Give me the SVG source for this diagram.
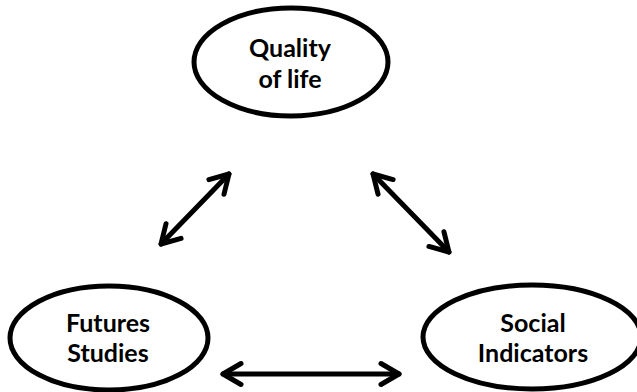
<svg xmlns="http://www.w3.org/2000/svg" width="637" height="392" viewBox="0 0 637 392">
<style>
.node{fill:#fff;stroke:#000;stroke-width:5}
.lbl{font-family:Lato,"Open Sans",sans-serif;font-weight:bold;font-size:25px;fill:#000;text-anchor:middle}
.conn{fill:none;stroke:#000;stroke-width:5;stroke-linecap:round;marker-start:url(#ah);marker-end:url(#ah)}
</style>
<defs>
<marker id="ah" viewBox="-24 -15 28 30" markerWidth="28" markerHeight="30" refX="0" refY="0" markerUnits="userSpaceOnUse" orient="auto-start-reverse">
<path d="M -18,-10.5 L 0,0 L -18,10.5" fill="none" stroke="#000" stroke-width="5" stroke-linecap="round" stroke-linejoin="round"/>
</marker>
</defs>
<rect width="637" height="392" fill="#fff"/>
<g id="quality">
<ellipse class="node" cx="291" cy="62" rx="97" ry="54"/>
<text class="lbl" x="290" y="57">Quality</text>
<text class="lbl" x="290" y="88">of life</text>
</g>
<g id="futures">
<ellipse class="node" cx="109" cy="338" rx="99" ry="52"/>
<text class="lbl" x="108" y="332">Futures</text>
<text class="lbl" x="108" y="362">Studies</text>
</g>
<g id="social">
<ellipse class="node" cx="532" cy="337" rx="109" ry="52"/>
<text class="lbl" x="533" y="332">Social</text>
<text class="lbl" x="533" y="362">Indicators</text>
</g>
<g id="connectors">
<path class="conn" d="M 161,244 L 229,174"/>
<path class="conn" d="M 373,174 L 449,252"/>
<path class="conn" d="M 223,374 L 399,374"/>
</g>
</svg>
